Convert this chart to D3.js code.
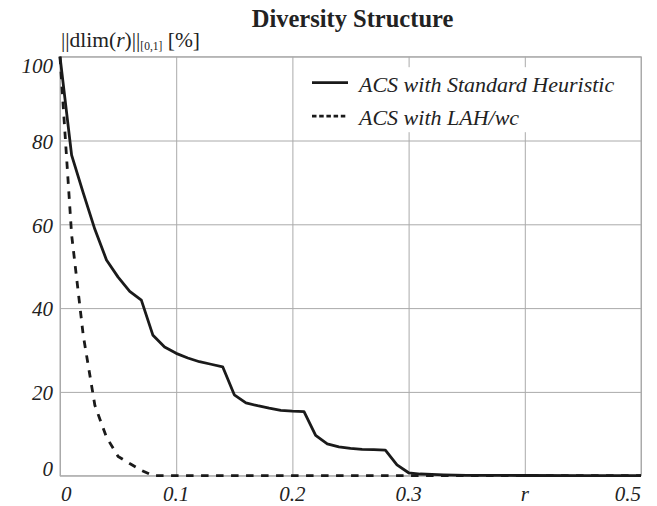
<!DOCTYPE html>
<html>
<head>
<meta charset="utf-8">
<script src="https://cdn.jsdelivr.net/npm/d3@7"></script>
<style>
  body { margin: 0; background: #fff; }
  svg text { font-family: "Liberation Serif", serif; fill: #222; }
  .grid line { stroke: #aaa; stroke-width: 1; }
  .grid path { display: none; }
</style>
</head>
<body>
<div id="chart"></div>
<script>
var rValues = [0, 0.01, 0.02, 0.03, 0.04, 0.05, 0.06, 0.07, 0.08, 0.09, 0.10, 0.11, 0.12, 0.13, 0.14,
  0.15, 0.16, 0.17, 0.18, 0.19, 0.20, 0.21, 0.22, 0.23, 0.24, 0.25, 0.26, 0.27, 0.28, 0.29, 0.30,
  0.31, 0.32, 0.33, 0.34, 0.35, 0.40, 0.45, 0.50];
var standardValues = [100, 76.5, 67.5, 58.8, 51.5, 47.4, 44.0, 41.9, 33.5, 30.7, 29.2, 28.1, 27.2, 26.6, 26.0,
  19.3, 17.4, 16.7, 16.1, 15.6, 15.4, 15.3, 9.6, 7.6, 6.9, 6.5, 6.3, 6.2, 6.1, 2.6, 0.7,
  0.4, 0.3, 0.2, 0.15, 0.1, 0.05, 0.02, 0];
var lahValues = [100, 57.5, 33.5, 16.8, 9.2, 4.6, 2.9, 1.3, 0, 0, 0, 0, 0, 0, 0,
  0, 0, 0, 0, 0, 0, 0, 0, 0, 0, 0, 0, 0, 0, 0, 0,
  0, 0, 0, 0, 0, 0, 0, 0];
var seriesNames = ["ACS with Standard Heuristic", "ACS with LAH/wc"];
var xTicks = [0, 0.1, 0.2, 0.3, 0.4, 0.5];
var xTickLabels = ["0", "0.1", "0.2", "0.3", "r", "0.5"];
var yTicks = [0, 20, 40, 60, 80, 100];

var W = 657, H = 506;
var margin = {top: 56.7, right: 16, bottom: 30.3, left: 60};
var width = W - margin.left - margin.right,
    height = H - margin.top - margin.bottom;

var svg = d3.select("#chart").append("svg")
  .attr("width", W).attr("height", H);

var x = d3.scaleLinear().domain([0, 0.5]).range([0, width]);
var y = d3.scaleLinear().domain([0, 100]).range([height, 0]);

var g = svg.append("g")
  .attr("transform", "translate(" + margin.left + "," + margin.top + ")");

// grid
g.append("g").attr("class", "grid")
  .call(d3.axisLeft(y).tickValues(yTicks).tickSize(-width).tickFormat(""));
g.append("g").attr("class", "grid")
  .attr("transform", "translate(0," + height + ")")
  .call(d3.axisBottom(x).tickValues(xTicks).tickSize(-height).tickFormat(""));
g.append("rect")
  .attr("width", width).attr("height", height)
  .attr("fill", "none").attr("stroke", "#aaa");

// tick labels
g.selectAll(".ylab").data(yTicks).enter().append("text")
  .attr("class", "ylab")
  .attr("x", -7)
  .attr("y", function(d) {
    var off = 1;
    if (d == 100) off = 9;
    if (d == 0) off = -7;
    return y(d) + off;
  })
  .attr("dy", "0.35em")
  .attr("text-anchor", "end")
  .style("font-style", "italic")
  .style("font-size", "21px")
  .text(function(d) { return d; });

g.selectAll(".xlab").data(xTicks).enter().append("text")
  .attr("class", "xlab")
  .attr("x", function(d, i) {
    if (i == 0) return x(d) + 1;
    return x(d);
  })
  .attr("y", height + 25.5)
  .attr("text-anchor", function(d, i) {
    if (i == 0) return "start";
    if (i == xTicks.length - 1) return "end";
    return "middle";
  })
  .style("font-style", "italic")
  .style("font-size", "21px")
  .text(function(d, i) { return xTickLabels[i]; });

// legend
var leg = g.append("g");
leg.append("rect")
  .attr("x", x(0.2) + 2).attr("y", 10.5)
  .attr("width", width - x(0.2) - 3).attr("height", 65)
  .attr("fill", "#fff");
var legItems = leg.selectAll(".item").data(seriesNames).enter().append("g")
  .attr("class", "item")
  .attr("transform", function(d, i) { return "translate(0," + (i * 33.5) + ")"; });
legItems.append("line")
  .attr("x1", 252).attr("x2", 288)
  .attr("y1", 26).attr("y2", 26)
  .attr("stroke", "#1a1a1a")
  .attr("stroke-width", 2.8)
  .attr("stroke-dasharray", function(d, i) { return i == 0 ? null : "4.5,2.7"; });
legItems.append("text")
  .attr("x", 299).attr("y", 35)
  .style("font-style", "italic")
  .style("font-size", "22px")
  .text(function(d) { return d; });

// lines
var lineStd = d3.line()
  .x(function(d, i) { return x(rValues[i]); })
  .y(function(d) { return y(d); });

g.append("path")
  .datum(lahValues)
  .attr("d", lineStd)
  .attr("fill", "none")
  .attr("stroke", "#1a1a1a")
  .attr("stroke-width", 2.8)
  .attr("stroke-dasharray", "7.5,7.5");

g.append("path")
  .datum(standardValues)
  .attr("d", lineStd)
  .attr("fill", "none")
  .attr("stroke", "#1a1a1a")
  .attr("stroke-width", 2.8)
  .attr("stroke-linejoin", "round");

// titles
svg.append("text")
  .attr("x", 352.5).attr("y", 26.5)
  .attr("text-anchor", "middle")
  .style("font-weight", "bold")
  .style("font-size", "24.5px")
  .text("Diversity Structure");

var yt = svg.append("text")
  .attr("x", 61).attr("y", 46.5)
  .style("font-size", "21.5px");
yt.append("tspan").text("||dlim(");
yt.append("tspan").style("font-style", "italic").text("r");
yt.append("tspan").text(")||");
yt.append("tspan").attr("dy", 3.5).style("font-size", "11.5px").text("[0,1]");
yt.append("tspan").attr("dy", -3.5).text(" [%]");
</script>
</body>
</html>
